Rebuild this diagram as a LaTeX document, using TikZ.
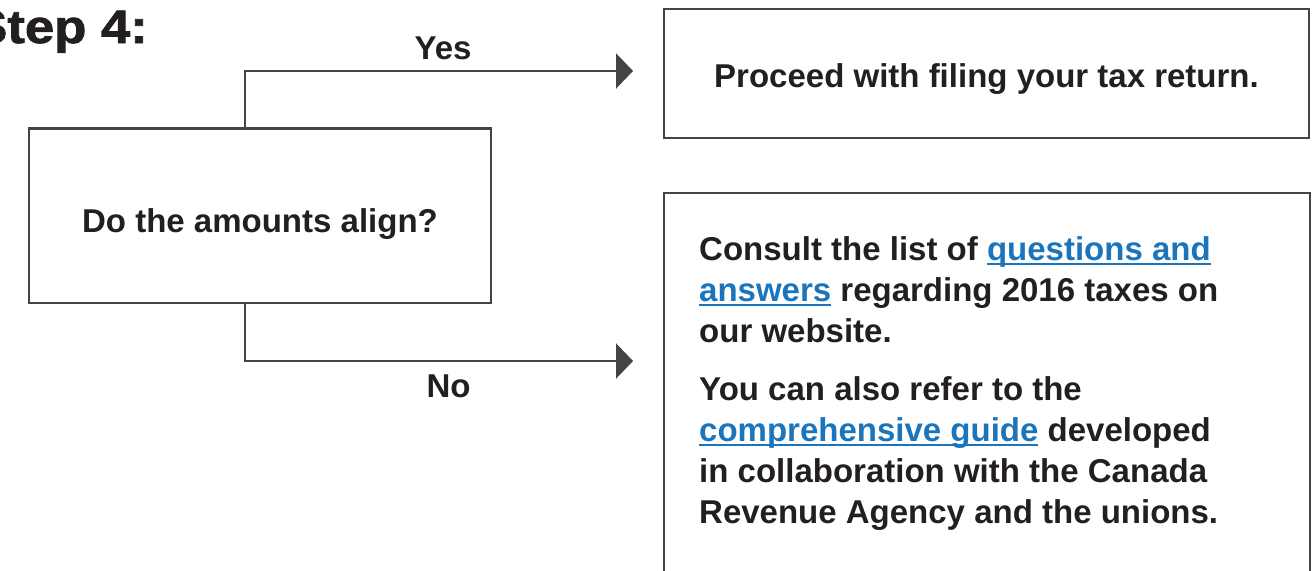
\documentclass[tikz,border=0pt]{standalone}
\usepackage{fontspec}
\setmainfont{Liberation Sans}
\usepackage{xcolor}
\usetikzlibrary{arrows.meta}

\definecolor{linegray}{HTML}{444444}
\definecolor{inkblack}{HTML}{231F20}
\definecolor{linkblue}{HTML}{1B75BC}
\newsavebox{\linkbox}
\newcommand{\weblink}[1]{{\color{linkblue}\sbox{\linkbox}{#1}\rlap{\rule[-4.5pt]{\wd\linkbox}{1.5pt}}\usebox{\linkbox}}}

\begin{document}
\begin{tikzpicture}[x=1pt,y=-1pt,
  box/.style={draw=linegray,line width=2.8pt,inner sep=0pt},
  flow/.style={draw=linegray,line width=2.6pt,-{Triangle[length=17pt,width=35pt]}},
  txt/.style={text=inkblack,font=\fontsize{33}{41}\selectfont\bfseries}]
    \useasboundingbox (0,0) rectangle (1313,570);

    % Title
    \node[txt,inner sep=0pt,font=\fontsize{47}{56}\selectfont\bfseries\addfontfeature{FakeBold=1.6},anchor=base east] (title) at (148,43) {\scalebox{1.12}[1]{Step 4:}};

    % Question
    \node[box,txt,text height=32.5pt,text depth=0pt,minimum width=462pt,minimum height=174.5pt] (qbox) at (260,215.75) {Do the amounts align?};

    % Yes answer
    \node[box,txt,text height=27pt,text depth=0pt,minimum width=645pt,minimum height=129pt] (yesbox) at (986.5,73.5) {Proceed with filing your tax return.};

    % No answer
    \node[box,minimum width=646pt,minimum height=427pt] (nobox) at (987,406.5) {};
    \node[txt,anchor=north west,align=left,inner sep=0pt] (notext) at (699,236) {Consult the list of \weblink{questions and}\\
        \weblink{answers} regarding 2016 taxes on\\
        our website.\\[17pt]
        You can also refer to the\\
        \weblink{comprehensive guide} developed\\
        in collaboration with the Canada\\
        Revenue Agency and the unions.};

    % Branches
    \coordinate (fork) at (245,0);
    \coordinate (yestip) at (633,71);
    \coordinate (notip) at (633,361);
    \draw[flow] (qbox.north -| fork) |- (yestip);
    \draw[flow] (qbox.south -| fork) |- (notip);
    \node[txt,anchor=base] (yeslbl) at (443,59) {Yes};
    \node[txt,anchor=base] (nolbl) at (448.5,397) {No};
\end{tikzpicture}
\end{document}
